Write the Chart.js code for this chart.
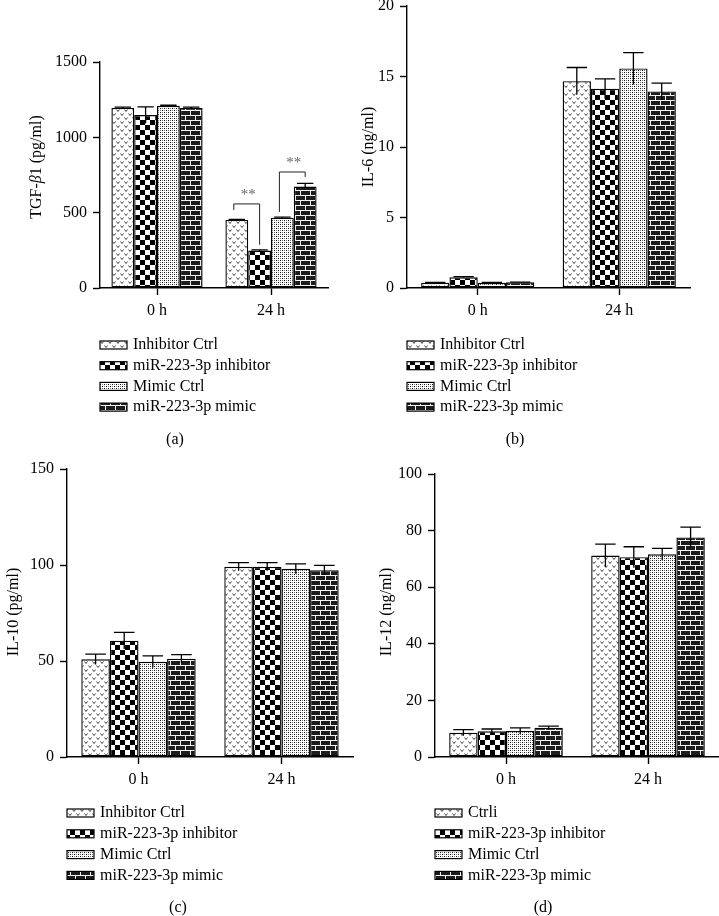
<!DOCTYPE html>
<html>
<head>
<meta charset="utf-8">
<script src="https://cdn.jsdelivr.net/npm/chart.js@4.4.1/dist/chart.umd.min.js"></script>
<style>
html,body{margin:0;padding:0;background:#fff;}
#wrap{position:relative;width:719px;height:916px;overflow:hidden;background:#fff;}
#wrap canvas{position:absolute;left:0;top:0;}
</style>
</head>
<body>
<div id="wrap">
<canvas id="ca" width="719" height="916"></canvas>
<canvas id="cb" width="719" height="916"></canvas>
<canvas id="cc" width="719" height="916"></canvas>
<canvas id="cd" width="719" height="916"></canvas>
</div>
<script>
// ---------------- DATA ----------------
const CATEGORIES = ['0 h', '24 h'];
const SERIES_ABC = ['Inhibitor Ctrl', 'miR-223-3p inhibitor', 'Mimic Ctrl', 'miR-223-3p mimic'];
const SERIES_D = ['Ctrli', 'miR-223-3p inhibitor', 'Mimic Ctrl', 'miR-223-3p mimic'];

// one row per series: [0 h, 24 h]
const TGF_MEAN = [[1195, 452], [1148, 249], [1209, 467], [1195, 673]];
const TGF_ERR  = [[5, 4], [54, 4], [4, 4], [5, 22]];
const IL6_MEAN = [[0.37, 14.67], [0.76, 14.13], [0.37, 15.57], [0.40, 13.94]];
const IL6_ERR  = [[0.03, 0.97], [0.04, 0.70], [0.02, 1.13], [0.02, 0.59]];
const IL10_MEAN = [[50.9, 99.1], [60.6, 99.1], [49.6, 98.0], [51.2, 97.3]];
const IL10_ERR  = [[2.7, 2.1], [4.3, 2.1], [3.1, 2.6], [2.1, 2.5]];
const IL12_MEAN = [[8.6, 71.2], [9.1, 70.6], [9.2, 71.6], [10.3, 77.6]];
const IL12_ERR  = [[1.1, 4.0], [0.8, 3.7], [1.1, 2.1], [0.6, 3.6]];

const TGF_AXIS = [0, 1500, 500];
const IL6_AXIS = [0, 20, 5];
const IL10_AXIS = [0, 150, 50];
const IL12_AXIS = [0, 100, 20];

// significance brackets in panel (a), 24 h group: [seriesA, seriesB, topValue, legAValue, legBValue]
const TGF_SIG = [[0, 1, 558, 518, 287], [2, 3, 770, 505, 737]];
const SIG_TEXT = '**';

// ---------------- STYLE ----------------
const FAMILY = '"Liberation Serif", "Times New Roman", "DejaVu Serif", serif';

function makePattern(kind) {
  const c = document.createElement('canvas');
  let g;
  if (kind === 'v') {
    c.width = 8; c.height = 8; g = c.getContext('2d');
    g.fillStyle = '#fff'; g.fillRect(0, 0, 8, 8);
    g.strokeStyle = '#444'; g.lineWidth = 1;
    g.beginPath();
    g.moveTo(0.5, 1.5); g.lineTo(2, 3.5); g.lineTo(3.5, 1.5);
    g.moveTo(4.5, 5.5); g.lineTo(6, 7.5); g.lineTo(7.5, 5.5);
    g.stroke();
  } else if (kind === 'check') {
    c.width = 10; c.height = 10; g = c.getContext('2d');
    g.fillStyle = '#fff'; g.fillRect(0, 0, 10, 10);
    g.fillStyle = '#000'; g.fillRect(0, 0, 5, 5); g.fillRect(5, 5, 5, 5);
  } else if (kind === 'dots') {
    c.width = 4; c.height = 4; g = c.getContext('2d');
    g.fillStyle = '#fff'; g.fillRect(0, 0, 4, 4);
    g.fillStyle = '#111'; g.fillRect(0, 0, 1, 1); g.fillRect(2, 2, 1, 1);
    g.fillStyle = '#777'; g.fillRect(2, 0, 1, 1); g.fillRect(0, 2, 1, 1);
  } else {
    c.width = 10; c.height = 10; g = c.getContext('2d');
    g.fillStyle = '#1c1c1c'; g.fillRect(0, 0, 10, 10);
    g.fillStyle = '#f4f4f4';
    g.fillRect(0, 0, 10, 1); g.fillRect(0, 5, 10, 1);
    g.fillRect(0, 0, 1, 5); g.fillRect(5, 5, 1, 5);
  }
  return g.createPattern(c, 'repeat');
}
const PATTERNS = [makePattern('v'), makePattern('check'), makePattern('dots'), makePattern('brick')];

const panelPlugin = {
  id: 'panel',
  afterDatasetsDraw(chart) {
    const o = chart.options.plugins.panel;
    const ctx = chart.ctx;
    const y = chart.scales.y;
    ctx.save();
    ctx.strokeStyle = '#000';
    ctx.lineWidth = 1.3;
    chart.data.datasets.forEach((ds, di) => {
      const meta = chart.getDatasetMeta(di);
      meta.data.forEach((bar, i) => {
        const v = ds.data[i], e = ds.errors[i];
        const yt = y.getPixelForValue(v + e), yb = y.getPixelForValue(v - e);
        const cw = bar.width * 0.36;
        ctx.beginPath();
        ctx.moveTo(bar.x, yb); ctx.lineTo(bar.x, yt);
        ctx.moveTo(bar.x - cw, yt); ctx.lineTo(bar.x + cw, yt);
        ctx.stroke();
      });
    });
    (o.sig || []).forEach(s => {
      const a = chart.getDatasetMeta(s[0]).data[1];
      const b = chart.getDatasetMeta(s[1]).data[1];
      const yt = y.getPixelForValue(s[2]);
      ctx.strokeStyle = '#222'; ctx.lineWidth = 1;
      ctx.beginPath();
      ctx.moveTo(a.x - 3, y.getPixelForValue(s[3]));
      ctx.lineTo(a.x - 3, yt);
      ctx.lineTo(b.x, yt);
      ctx.lineTo(b.x, y.getPixelForValue(s[4]));
      ctx.stroke();
      ctx.fillStyle = '#666';
      ctx.font = '15px ' + FAMILY;
      ctx.textAlign = 'center'; ctx.textBaseline = 'bottom';
      ctx.fillText(SIG_TEXT, (a.x + b.x) / 2, yt - 1);
    });
    ctx.restore();
  },
  afterDraw(chart) {
    const o = chart.options.plugins.panel;
    const ctx = chart.ctx;
    ctx.save();
    ctx.translate(o.titleX, o.titleY);
    ctx.rotate(-Math.PI / 2);
    let total = 0;
    o.title.forEach(p => { ctx.font = (p[1] ? 'italic ' : '') + '16px ' + FAMILY; p.w = ctx.measureText(p[0]).width; total += p.w; });
    let x = -total / 2;
    ctx.fillStyle = '#000'; ctx.textAlign = 'left'; ctx.textBaseline = 'middle';
    o.title.forEach(p => { ctx.font = (p[1] ? 'italic ' : '') + '16px ' + FAMILY; ctx.fillText(p[0], x, 0); x += p.w; });
    ctx.restore();
    ctx.save();
    ctx.font = '16px ' + FAMILY;
    ctx.textAlign = 'left'; ctx.textBaseline = 'middle';
    chart.data.datasets.forEach((ds, i) => {
      const ry = o.legendY + i * o.legendStep;
      ctx.fillStyle = ds.backgroundColor;
      ctx.fillRect(o.legendX, ry - 4, 27, 8);
      ctx.strokeStyle = '#000'; ctx.lineWidth = 1.2;
      ctx.strokeRect(o.legendX, ry - 4, 27, 8);
      ctx.fillStyle = '#000';
      ctx.fillText(ds.label, o.legendX + 33, ry);
    });
    ctx.textAlign = 'center';
    ctx.fillText(o.label, o.labelX, o.labelY);
    ctx.restore();
  }
};

function makeChart(id, p) {
  const Y_W = 50, X_H = 40;
  const font = { family: FAMILY, size: 16 };
  const datasets = p.series.map((name, i) => ({
    label: name,
    data: p.mean[i].slice(),
    errors: p.err[i].slice(),
    backgroundColor: PATTERNS[i],
    borderColor: '#000',
    borderWidth: 1.4,
    borderSkipped: false,
    categoryPercentage: 0.8,
    barPercentage: 1.0
  }));
  return new Chart(document.getElementById(id), {
    type: 'bar',
    data: { labels: CATEGORIES, datasets },
    plugins: [panelPlugin],
    options: {
      responsive: false,
      animation: false,
      devicePixelRatio: 1,
      events: [],
      layout: { padding: { left: p.area[0] - Y_W, top: p.area[2], right: 719 - p.area[1], bottom: 916 - p.area[3] - X_H } },
      plugins: {
        legend: { display: false },
        tooltip: { enabled: false },
        panel: p.panel
      },
      scales: {
        x: {
          offset: true,
          grid: { display: true, drawOnChartArea: false, drawTicks: true, tickLength: 7, tickColor: '#000', tickWidth: 1.4, offset: false },
          border: { display: true, color: '#000', width: 1.4 },
          ticks: { color: '#000', font, padding: 6 },
          afterFit(s) { s.height = X_H; s.paddingLeft = 0; s.paddingRight = 0; }
        },
        y: {
          min: p.axis[0], max: p.axis[1],
          ticks: { stepSize: p.axis[2], color: '#000', font, padding: 6, callback: v => String(v) },
          grid: { display: true, drawOnChartArea: false, drawTicks: true, tickLength: 7, tickColor: '#000', tickWidth: 1.4 },
          border: { display: true, color: '#000', width: 1.4 },
          afterFit(s) { s.width = Y_W; s.paddingTop = 0; s.paddingBottom = 0; }
        }
      }
    }
  });
}

makeChart('ca', {
  series: SERIES_ABC, mean: TGF_MEAN, err: TGF_ERR, axis: TGF_AXIS,
  area: [100, 328, 62, 288],
  panel: { title: [['TGF-', false], ['\u03B2', true], ['1 (pg/ml)', false]], titleX: 37, titleY: 167,
           legendX: 100, legendY: 345, legendStep: 20.7, label: '(a)', labelX: 175, labelY: 440, sig: TGF_SIG }
});
makeChart('cb', {
  series: SERIES_ABC, mean: IL6_MEAN, err: IL6_ERR, axis: IL6_AXIS,
  area: [407, 690, 6, 288],
  panel: { title: [['IL-6 (ng/ml)', false]], titleX: 369, titleY: 147,
           legendX: 407, legendY: 345, legendStep: 20.7, label: '(b)', labelX: 515, labelY: 440 }
});
makeChart('cc', {
  series: SERIES_ABC, mean: IL10_MEAN, err: IL10_ERR, axis: IL10_AXIS,
  area: [67, 353, 469, 757],
  panel: { title: [['IL-10 (pg/ml)', false]], titleX: 14, titleY: 612,
           legendX: 67, legendY: 813, legendStep: 20.8, label: '(c)', labelX: 178, labelY: 908 }
});
makeChart('cd', {
  series: SERIES_D, mean: IL12_MEAN, err: IL12_ERR, axis: IL12_AXIS,
  area: [435, 719, 474, 757],
  panel: { title: [['IL-12 (ng/ml)', false]], titleX: 387, titleY: 612,
           legendX: 435, legendY: 813, legendStep: 20.8, label: '(d)', labelX: 543, labelY: 908 }
});
</script>
</body>
</html>
